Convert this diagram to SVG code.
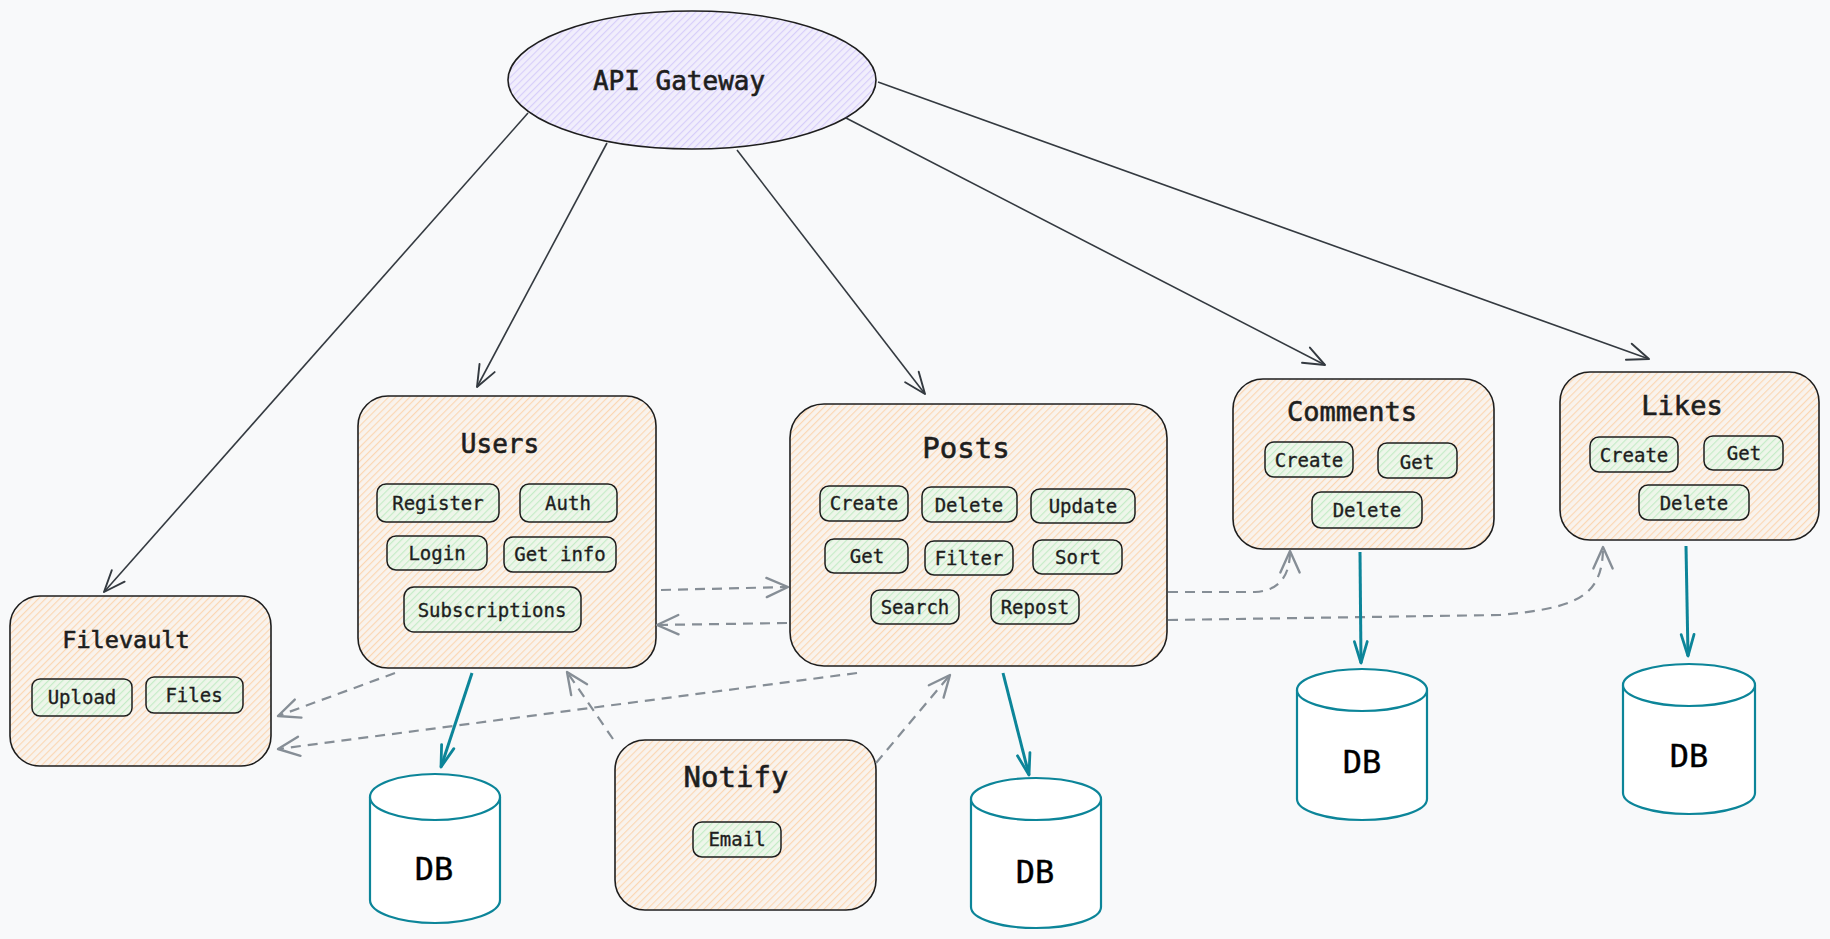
<svg xmlns="http://www.w3.org/2000/svg" width="1830" height="939" viewBox="0 0 1830 939">
<defs>
<pattern id="hO" width="5" height="5" patternUnits="userSpaceOnUse" patternTransform="rotate(45)"><rect width="5" height="5" fill="#f9f3ed"/><line x1="0.6" y1="0" x2="0.6" y2="5" stroke="#fcd6b0" stroke-width="1.1"/></pattern>
<pattern id="hG" width="5" height="5" patternUnits="userSpaceOnUse" patternTransform="rotate(45)"><rect width="5" height="5" fill="#eef6ea"/><line x1="0.6" y1="0" x2="0.6" y2="5" stroke="#c3ecc6" stroke-width="1.1"/></pattern>
<pattern id="hP" width="5" height="5" patternUnits="userSpaceOnUse" patternTransform="rotate(45)"><rect width="5" height="5" fill="#f1eefc"/><line x1="0.6" y1="0" x2="0.6" y2="5" stroke="#d6cdfa" stroke-width="1.1"/></pattern>
<marker id="aD" markerUnits="userSpaceOnUse" markerWidth="30" markerHeight="30" viewBox="-24 -12 28 24" refX="0" refY="0" orient="auto"><path d="M-20,-8 L0,0 L-20,8" fill="none" stroke="#343a40" stroke-width="1.8" stroke-linecap="round" stroke-linejoin="round"/></marker>
<marker id="aG" markerUnits="userSpaceOnUse" markerWidth="30" markerHeight="30" viewBox="-24 -12 28 24" refX="0" refY="0" orient="auto"><path d="M-20,-9 L0,0 L-20,9" fill="none" stroke="#868e96" stroke-width="2.2" stroke-linecap="round" stroke-linejoin="round"/></marker>
<marker id="aT" markerUnits="userSpaceOnUse" markerWidth="30" markerHeight="30" viewBox="-24 -12 28 24" refX="0" refY="0" orient="auto"><path d="M-20,-6 L0,0 L-20,6" fill="none" stroke="#0c8599" stroke-width="2.6" stroke-linecap="round" stroke-linejoin="round"/></marker>
</defs>
<style>
.box{fill:url(#hO);stroke:#1e1e1e;stroke-width:1.6}
.btn{fill:url(#hG);stroke:#1e1e1e;stroke-width:1.5}
.ttl{font-family:"DejaVu Sans Mono","Liberation Mono",monospace;fill:#1e1e1e;stroke:#1e1e1e;stroke-width:0.6;text-anchor:middle}
.bt{font-family:"DejaVu Sans Mono","Liberation Mono",monospace;font-size:19px;fill:#1e1e1e;stroke:#1e1e1e;stroke-width:0.35;text-anchor:middle}
.db{fill:#ffffff;stroke:#0c8599;stroke-width:2.2}
.dbt{font-family:"DejaVu Sans Mono","Liberation Mono",monospace;font-size:32px;fill:#000;stroke:#000;stroke-width:0.4;text-anchor:middle}
.solid{fill:none;stroke:#343a40;stroke-width:1.6;marker-end:url(#aD)}
.dash{fill:none;stroke:#868e96;stroke-width:2.2;stroke-dasharray:10 7;marker-end:url(#aG)}
.teal{fill:none;stroke:#0c8599;stroke-width:3;marker-end:url(#aT)}
</style>
<rect width="1830" height="939" fill="#f8f9fa"/>

<g id="api-gateway">
<ellipse cx="692" cy="80" rx="184" ry="69" fill="url(#hP)" stroke="#1e1e1e" stroke-width="1.6"/>
<text class="ttl" x="679" y="90" font-size="26">API Gateway</text>
</g>

<g id="filevault">
<rect class="box" x="10" y="596" width="261" height="170" rx="30"/>
<text class="ttl" x="126" y="648" font-size="23.5">Filevault</text>
<rect class="btn" x="32" y="679" width="100" height="37" rx="8"/><text class="bt" x="82" y="704">Upload</text>
<rect class="btn" x="146" y="677" width="97" height="36" rx="8"/><text class="bt" x="194" y="702">Files</text>
</g>

<g id="users">
<rect class="box" x="358" y="396" width="298" height="272" rx="30"/>
<text class="ttl" x="500" y="453" font-size="26">Users</text>
<rect class="btn" x="377" y="484" width="122" height="38" rx="9"/><text class="bt" x="438" y="510">Register</text>
<rect class="btn" x="520" y="484" width="97" height="38" rx="9"/><text class="bt" x="568" y="510">Auth</text>
<rect class="btn" x="387" y="536" width="100" height="34" rx="9"/><text class="bt" x="437" y="560">Login</text>
<rect class="btn" x="504" y="537" width="112" height="35" rx="9"/><text class="bt" x="560" y="561">Get info</text>
<rect class="btn" x="404" y="587" width="177" height="45" rx="10"/><text class="bt" x="492" y="617">Subscriptions</text>
</g>

<g id="posts">
<rect class="box" x="790" y="404" width="377" height="262" rx="34"/>
<text class="ttl" x="966" y="458" font-size="29">Posts</text>
<rect class="btn" x="820" y="486" width="88" height="35" rx="9"/><text class="bt" x="864" y="510">Create</text>
<rect class="btn" x="922" y="487" width="95" height="35" rx="9"/><text class="bt" x="969" y="512">Delete</text>
<rect class="btn" x="1031" y="489" width="104" height="34" rx="9"/><text class="bt" x="1083" y="513">Update</text>
<rect class="btn" x="825" y="539" width="83" height="34" rx="9"/><text class="bt" x="867" y="563">Get</text>
<rect class="btn" x="925" y="541" width="88" height="34" rx="9"/><text class="bt" x="969" y="565">Filter</text>
<rect class="btn" x="1033" y="540" width="89" height="34" rx="9"/><text class="bt" x="1078" y="564">Sort</text>
<rect class="btn" x="871" y="590" width="88" height="34" rx="9"/><text class="bt" x="915" y="614">Search</text>
<rect class="btn" x="991" y="590" width="88" height="34" rx="9"/><text class="bt" x="1035" y="614">Repost</text>
</g>

<g id="comments">
<rect class="box" x="1233" y="379" width="261" height="170" rx="30"/>
<text class="ttl" x="1352" y="421" font-size="27">Comments</text>
<rect class="btn" x="1265" y="442" width="88" height="35" rx="9"/><text class="bt" x="1309" y="467">Create</text>
<rect class="btn" x="1378" y="443" width="79" height="35" rx="9"/><text class="bt" x="1417" y="469">Get</text>
<rect class="btn" x="1312" y="492" width="110" height="36" rx="9"/><text class="bt" x="1367" y="517">Delete</text>
</g>

<g id="likes">
<rect class="box" x="1560" y="372" width="259" height="168" rx="30"/>
<text class="ttl" x="1682" y="415" font-size="27">Likes</text>
<rect class="btn" x="1590" y="437" width="88" height="35" rx="9"/><text class="bt" x="1634" y="462">Create</text>
<rect class="btn" x="1704" y="436" width="79" height="34" rx="9"/><text class="bt" x="1744" y="460">Get</text>
<rect class="btn" x="1639" y="485" width="110" height="35" rx="9"/><text class="bt" x="1694" y="510">Delete</text>
</g>

<g id="notify">
<rect class="box" x="615" y="740" width="261" height="170" rx="30"/>
<text class="ttl" x="736" y="787" font-size="29">Notify</text>
<rect class="btn" x="693" y="822" width="88" height="35" rx="9"/><text class="bt" x="737" y="846">Email</text>
</g>

<g id="db-users">
<path class="db" d="M370,797 L370,900 A65,23 0 0 0 500,900 L500,797"/>
<ellipse class="db" cx="435" cy="797" rx="65" ry="23"/>
<text class="dbt" x="434" y="880">DB</text>
</g>
<g id="db-posts">
<path class="db" d="M971,799 L971,907 A65,21 0 0 0 1101,907 L1101,799"/>
<ellipse class="db" cx="1036" cy="799" rx="65" ry="21"/>
<text class="dbt" x="1035" y="883">DB</text>
</g>
<g id="db-comments">
<path class="db" d="M1297,690 L1297,799 A65,21 0 0 0 1427,799 L1427,690"/>
<ellipse class="db" cx="1362" cy="690" rx="65" ry="21"/>
<text class="dbt" x="1362" y="773">DB</text>
</g>
<g id="db-likes">
<path class="db" d="M1623,685 L1623,793 A66,21 0 0 0 1755,793 L1755,685"/>
<ellipse class="db" cx="1689" cy="685" rx="66" ry="21"/>
<text class="dbt" x="1689" y="767">DB</text>
</g>

<g id="connectors">
<path class="solid" d="M528,113 L104,592"/>
<path class="solid" d="M607,143 L477,387"/>
<path class="solid" d="M737,150 L925,394"/>
<path class="solid" d="M846,118 L1325,365"/>
<path class="solid" d="M878,82 L1649,359"/>

<path class="dash" d="M661,590 L788,587"/>
<path class="dash" d="M787,623 L657,625"/>
<path class="dash" d="M395,673 L278,716"/>
<path class="dash" d="M857,673 L278,749"/>
<path class="dash" d="M613,739 L567,672"/>
<path class="dash" d="M876,763 L950,675"/>
<path class="dash" d="M1168,592 L1255,592 Q1290,590 1290,551"/>
<path class="dash" d="M1168,620 L1500,615 C1575,608 1603,598 1603,547"/>

<path class="teal" d="M472,673 L441,767"/>
<path class="teal" d="M1003,673 L1029,775"/>
<path class="teal" d="M1360,552 L1361,663"/>
<path class="teal" d="M1686,546 L1688,656"/>
</g>
</svg>
